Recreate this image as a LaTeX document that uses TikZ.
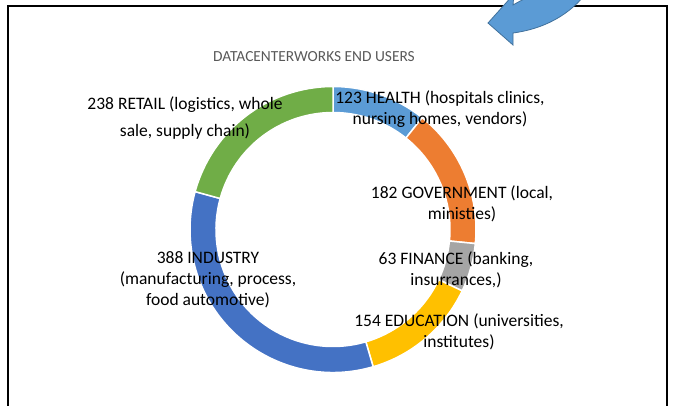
\documentclass[tikz,border=0pt]{standalone}
\usepackage{fontspec}
\setmainfont{Carlito}
\usepackage{xcolor}
\usepackage{tikz}

\definecolor{healthblue}{HTML}{5B9BD5}
\definecolor{govorange}{HTML}{ED7D31}
\definecolor{fingray}{HTML}{A5A5A5}
\definecolor{edugold}{HTML}{FFC000}
\definecolor{indblue}{HTML}{4472C4}
\definecolor{retailgreen}{HTML}{70AD47}
\definecolor{arrowline}{HTML}{41719C}
\definecolor{titlegray}{HTML}{595959}

\begin{document}
\begin{tikzpicture}[x=1pt,y=-1pt,
  lbl/.style={align=center,font=\fontsize{17.5}{21}\selectfont,text=black,inner sep=0pt,anchor=base}]
\useasboundingbox (0,0) rectangle (673,405);
\clip (0,0) rectangle (673,405);

% Frame
\draw[line width=1.2pt] (8,420) -- (8,6) -- (667,6) -- (667,420);

% Curved arrow
\filldraw[fill=healthblue,draw=arrowline,line width=0.8pt]
  (488,23) -- (514,-6) -- (513,5)
  .. controls (520,1) and (530,-4) .. (545,-12)
  -- (590,-12)
  .. controls (575,10) and (550,28) .. (513,33)
  -- (513,45) -- cycle;

% Title
\node[font=\fontsize{15.4}{18}\selectfont,text=titlegray,anchor=base] (title) at (314,61.5) {DATACENTERWORKS END USERS};

% Ring
\begin{scope}[shift={(333,229.5)}]
\foreach \a/\b/\col in {-90/-51.43/healthblue, -51.43/5.645/govorange, 5.645/25.401/fingray,
  25.401/73.694/edugold, 73.694/195.366/indblue, 195.366/270/retailgreen}
  \filldraw[fill=\col,draw=white,line width=1.5pt]
    (\a:143) arc[start angle=\a,end angle=\b,radius=143]
    -- (\b:117) arc[start angle=\b,end angle=\a,radius=117] -- cycle;
\end{scope}

% Labels (anchored at the last line)
\node[lbl] (retail) at (185,136.7) {238 RETAIL (logistics, whole\\[6pt] sale, supply chain)};
\node[lbl] (health) at (440,124.3) {123 HEALTH (hospitals clinics,\\ nursing homes, vendors)};
\node[lbl] (gov) at (462,219.3) {182 GOVERNMENT (local,\\ ministies)};
\node[lbl] (finance) at (456,285) {63 FINANCE (banking,\\ insurrances,)};
\node[lbl] (educ) at (459,347.5) {154 EDUCATION (universities,\\ institutes)};
\node[lbl] (industry) at (208,305) {388 INDUSTRY\\ (manufacturing, process,\\ food automotive)};
\end{tikzpicture}
\end{document}
